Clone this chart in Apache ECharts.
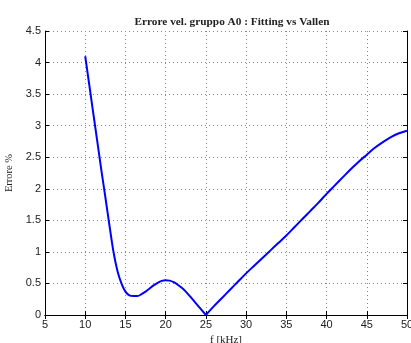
<!DOCTYPE html>
<html>
<head>
<meta charset="utf-8">
<script src="https://cdn.jsdelivr.net/npm/echarts@6/dist/echarts.min.js"></script>
<style>
html, body { margin: 0; padding: 0; background: #fff; }
#grafico { width: 411px; height: 343px; }
</style>
</head>
<body>
<div id="grafico"></div>
<script>
// valori: frequenza [kHz] e errore %
var freq = [10, 10.5, 11, 11.5, 12, 12.5, 13, 13.5, 14, 14.5, 15, 15.5, 16, 16.5, 17, 17.5, 18, 18.5, 19, 19.5, 20, 20.5, 21, 21.5, 22, 22.5, 23, 24, 25,
            26, 27, 28, 29, 30, 31, 32, 33, 34, 35, 36, 37, 38, 39, 40, 41, 42, 43, 44, 45, 46, 47, 48, 49, 50];
var errore = [4.1, 3.65, 3.2, 2.75, 2.3, 1.87, 1.43, 1.01, 0.7, 0.5, 0.37, 0.31, 0.3, 0.3, 0.33, 0.37, 0.42, 0.47, 0.51, 0.54, 0.55, 0.545, 0.52, 0.48, 0.43, 0.37, 0.3, 0.15, 0.0,
              0.14, 0.27, 0.4, 0.53, 0.66, 0.78, 0.9, 1.02, 1.14, 1.26, 1.39, 1.52, 1.65, 1.78, 1.92, 2.05, 2.18, 2.31, 2.43, 2.54, 2.65, 2.74, 2.82, 2.88, 2.92];
var xTicks = [5, 50, 5];   // min, max, passo
var yTicks = [0, 4.5, 0.5];

var punti = freq.map(function (f, i) { return [f, errore[i]]; });
// il minimo a 25 kHz e' uno spigolo: due tratti separati
var iMin = freq.indexOf(25);
var tratto1 = punti.slice(0, iMin + 1);
var tratto2 = punti.slice(iMin);

var myChart = echarts.init(document.getElementById("grafico"));
var tickIn = { show: true, inside: true, length: 4, lineStyle: { color: '#000' } };
var serieLinea = function (dati) {
    return {
        name: 'Errore',
        type: 'line',
        data: dati,
        smooth: 0.3,
        showSymbol: false,
        lineStyle: { color: '#0000ff', width: 2 }
    };
};
var option = {
    animation: false,
    title: {
        text: 'Errore vel. gruppo A0 : Fitting vs Vallen',
        left: 227,
        textAlign: 'center',
        top: 12,
        textStyle: { fontFamily: 'Liberation Serif', fontWeight: 'bold', fontSize: 11.3, color: '#222' }
    },
    grid: { left: 45, right: 4, top: 31, bottom: 28, outerBoundsMode: 'none' },
    xAxis: [{
        type: 'value',
        min: xTicks[0], max: xTicks[1], interval: xTicks[2],
        name: 'f [kHz]',
        nameLocation: 'middle',
        nameGap: 18,
        nameTextStyle: { fontFamily: 'Liberation Serif', fontSize: 11, color: '#222' },
        axisLine: { lineStyle: { color: '#000', width: 1 } },
        axisTick: tickIn,
        axisLabel: { fontFamily: 'Liberation Sans', fontSize: 11, color: '#222', margin: 4 },
        splitLine: { show: true, lineStyle: { color: '#888', type: [1, 3] } }
    }, {
        type: 'value', position: 'top',
        min: xTicks[0], max: xTicks[1], interval: xTicks[2],
        axisLine: { show: true, lineStyle: { color: '#000' } },
        axisTick: tickIn,
        axisLabel: { show: false },
        splitLine: { show: false }
    }],
    yAxis: [{
        type: 'value',
        min: yTicks[0], max: yTicks[1], interval: yTicks[2],
        name: 'Errore %',
        nameLocation: 'middle',
        nameGap: 25,
        nameTextStyle: { fontFamily: 'Liberation Serif', fontSize: 10.5, color: '#222' },
        axisLine: { show: true, lineStyle: { color: '#000', width: 1 } },
        axisTick: tickIn,
        axisLabel: { fontFamily: 'Liberation Sans', fontSize: 11, color: '#222', margin: 4 },
        splitLine: { show: true, lineStyle: { color: '#888', type: [1, 3] } }
    }, {
        type: 'value', position: 'right',
        min: yTicks[0], max: yTicks[1], interval: yTicks[2],
        axisLine: { show: true, lineStyle: { color: '#000' } },
        axisTick: tickIn,
        axisLabel: { show: false },
        splitLine: { show: false }
    }],
    series: [serieLinea(tratto1), serieLinea(tratto2)]
};
myChart.setOption(option);
window.addEventListener("resize", function () {
    myChart.resize();
});
</script>
</body>
</html>
